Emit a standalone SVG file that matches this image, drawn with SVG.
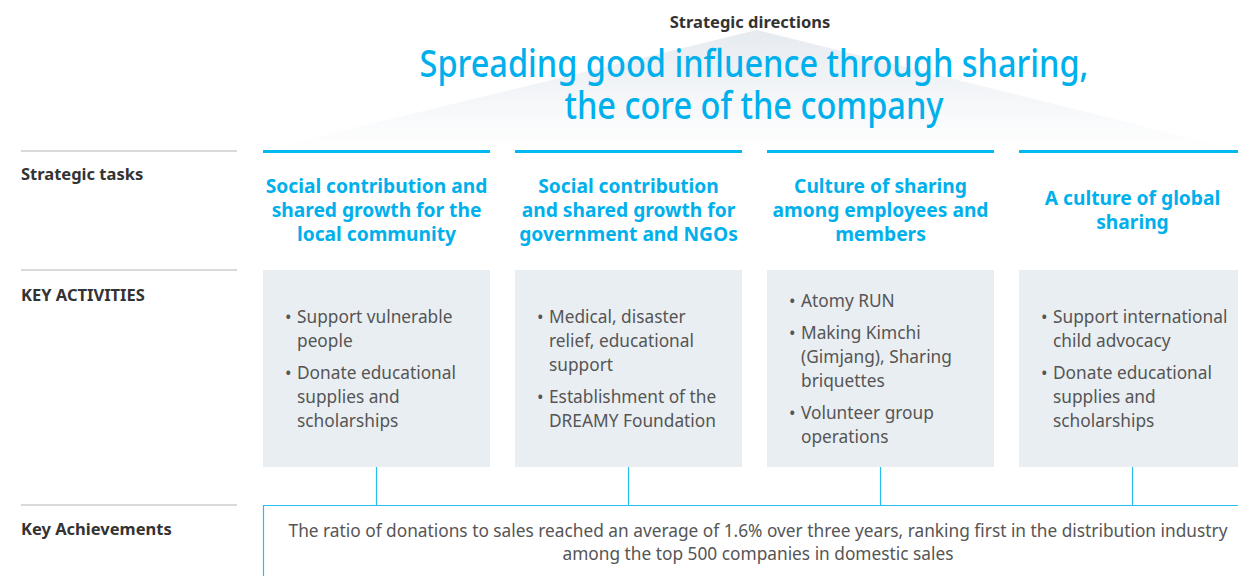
<svg xmlns="http://www.w3.org/2000/svg" width="1238" height="576" viewBox="0 0 1238 576">
<defs>
<linearGradient id="tri" x1="0" y1="0" x2="0" y2="1">
<stop offset="0" stop-color="#e6ebf0"/>
<stop offset="1" stop-color="#ffffff"/>
</linearGradient>
</defs>
<style>
.lbl{font-family:"Noto Sans","Open Sans",sans-serif;font-weight:bold;font-size:16.5px;fill:#333}
.hd{font-family:"Noto Sans","Open Sans",sans-serif;font-weight:bold;font-size:19.2px;fill:#00b0ec;text-anchor:middle}
.bt{font-family:"Noto Sans","Open Sans",sans-serif;font-size:17.3px;fill:#555}
.ft{font-family:"Noto Sans","Open Sans",sans-serif;font-size:17.3px;fill:#555;text-anchor:middle}
.title{font-family:"Noto Sans","Open Sans",sans-serif;font-weight:500;font-size:38px;fill:#00b0ec;text-anchor:middle}
.sub{font-family:"Noto Sans","Open Sans",sans-serif;font-weight:bold;font-size:16.5px;fill:#333;text-anchor:middle}
.gl{stroke:#cccccc;stroke-width:1.5}
.bl{stroke:#00b9f1;stroke-width:3}
.box{fill:#e9eef2}
.cn{stroke:#29bdef;stroke-width:1.2;fill:none}
</style>
<g id="direction">
<polygon points="757,30 263,150 1238,150" fill="url(#tri)"/>
<text class="sub" x="750" y="28">Strategic directions</text>
<text class="title" x="754" y="77" textLength="669" lengthAdjust="spacingAndGlyphs">Spreading good influence through sharing,</text>
<text class="title" x="754" y="119" textLength="379" lengthAdjust="spacingAndGlyphs">the core of the company</text>
</g>
<g id="row-labels">
<line class="gl" x1="21" y1="151" x2="237" y2="151"/>
<line class="gl" x1="21" y1="270" x2="237" y2="270"/>
<line class="gl" x1="21" y1="505" x2="237" y2="505"/>
<text class="lbl" x="21" y="180">Strategic tasks</text>
<text class="lbl" x="21" y="301">KEY ACTIVITIES</text>
<text class="lbl" x="21" y="535">Key Achievements</text>
</g>
<g id="task1">
<line class="bl" x1="263" y1="151.5" x2="490" y2="151.5"/>
<text class="hd" x="376.5" y="193">Social contribution and</text>
<text class="hd" x="376.5" y="217">shared growth for the</text>
<text class="hd" x="376.5" y="241">local community</text>
</g>
<g id="task2">
<line class="bl" x1="515" y1="151.5" x2="742" y2="151.5"/>
<text class="hd" x="628.5" y="193">Social contribution</text>
<text class="hd" x="628.5" y="217">and shared growth for</text>
<text class="hd" x="628.5" y="241">government and NGOs</text>
</g>
<g id="task3">
<line class="bl" x1="767" y1="151.5" x2="994" y2="151.5"/>
<text class="hd" x="880.5" y="193">Culture of sharing</text>
<text class="hd" x="880.5" y="217">among employees and</text>
<text class="hd" x="880.5" y="241">members</text>
</g>
<g id="task4">
<line class="bl" x1="1019" y1="151.5" x2="1238" y2="151.5"/>
<text class="hd" x="1132.5" y="205">A culture of global</text>
<text class="hd" x="1132.5" y="229">sharing</text>
</g>
<g id="activity1">
<rect class="box" x="263" y="270" width="227" height="197"/>
<text class="bt" x="285" y="323">•</text><text class="bt" x="297" y="323">Support vulnerable</text>
<text class="bt" x="297" y="347">people</text>
<text class="bt" x="285" y="379">•</text><text class="bt" x="297" y="379">Donate educational</text>
<text class="bt" x="297" y="403">supplies and</text>
<text class="bt" x="297" y="427">scholarships</text>
</g>
<g id="activity2">
<rect class="box" x="515" y="270" width="227" height="197"/>
<text class="bt" x="537" y="323">•</text><text class="bt" x="549" y="323">Medical, disaster</text>
<text class="bt" x="549" y="347">relief, educational</text>
<text class="bt" x="549" y="371">support</text>
<text class="bt" x="537" y="403">•</text><text class="bt" x="549" y="403">Establishment of the</text>
<text class="bt" x="549" y="427">DREAMY Foundation</text>
</g>
<g id="activity3">
<rect class="box" x="767" y="270" width="227" height="197"/>
<text class="bt" x="789" y="307">•</text><text class="bt" x="801" y="307">Atomy RUN</text>
<text class="bt" x="789" y="339">•</text><text class="bt" x="801" y="339">Making Kimchi</text>
<text class="bt" x="801" y="363">(Gimjang), Sharing</text>
<text class="bt" x="801" y="387">briquettes</text>
<text class="bt" x="789" y="419">•</text><text class="bt" x="801" y="419">Volunteer group</text>
<text class="bt" x="801" y="443">operations</text>
</g>
<g id="activity4">
<rect class="box" x="1019" y="270" width="219" height="197"/>
<text class="bt" x="1041" y="323">•</text><text class="bt" x="1053" y="323">Support international</text>
<text class="bt" x="1053" y="347">child advocacy</text>
<text class="bt" x="1041" y="379">•</text><text class="bt" x="1053" y="379">Donate educational</text>
<text class="bt" x="1053" y="403">supplies and</text>
<text class="bt" x="1053" y="427">scholarships</text>
</g>
<g id="connectors">
<line class="cn" x1="376.5" y1="467" x2="376.5" y2="505"/>
<line class="cn" x1="628.5" y1="467" x2="628.5" y2="505"/>
<line class="cn" x1="880.5" y1="467" x2="880.5" y2="505"/>
<line class="cn" x1="1132.5" y1="467" x2="1132.5" y2="505"/>
</g>
<g id="achievement">
<path class="cn" d="M263.5,580 V505.5 H1240"/>
<text class="ft" x="758" y="537">The ratio of donations to sales reached an average of 1.6% over three years, ranking first in the distribution industry</text>
<text class="ft" x="758" y="560">among the top 500 companies in domestic sales</text>
</g>
</svg>
